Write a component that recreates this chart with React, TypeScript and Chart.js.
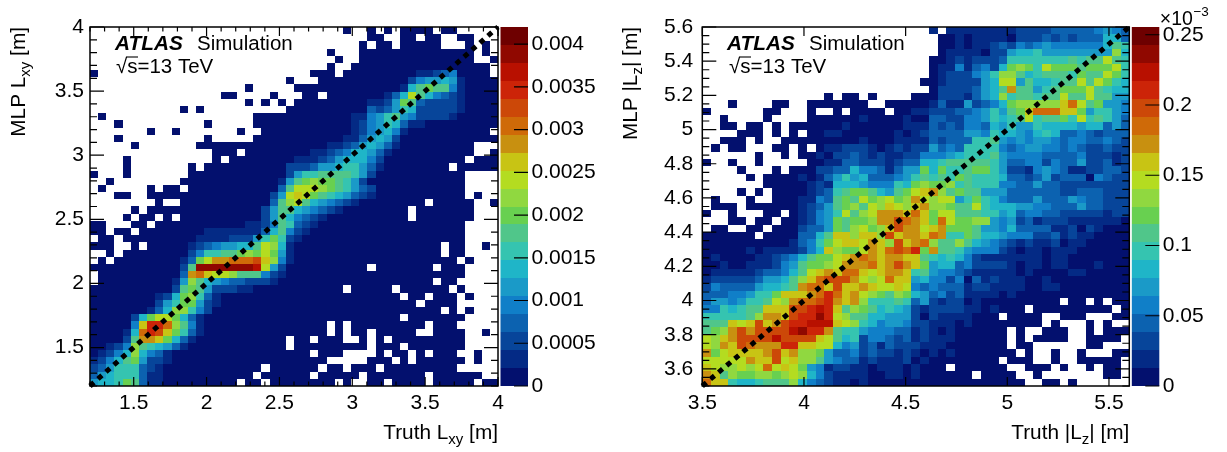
import React, { useEffect, useRef } from "react";
import { Chart, registerables } from "chart.js";

Chart.register(...registerables);

// Colour bins of the two histograms, top row first. "." = empty bin,
// 0-9 a-j = z bin number (0 lowest, j highest).
const lxyRows = [
  ".......... .......... .......... .0..0.0.00 00.00.....",
  ".......... .......... .......... ....00..00 .00..00...",
  ".......... .......... .......... ...0.00.00 000...0.0.",
  ".......... .......... .........0 ...0000000 0000000.0.",
  ".......... .......... .......... 0..0000000 0000000..0",
  ".......... .......... .........0 ..00000000 000000000.",
  "0......... .......... .......000 .000000000 112340000.",
  ".......... .......... ....0...00 0000000002 4556510000",
  ".......... .........0 .....00000 0000000016 8988410000",
  ".......... ......00.. ..0...00.0 000000136b 8643210000",
  ".......... .........0 .0.0.00000 0000112598 3222210000",
  ".......... .0.0...... ....000000 0000323576 2222210000",
  ".0........ .......... 0000000000 0011457854 2222100000",
  "...0...... ....0..... 0000000000 0012457631 1000000000",
  ".......0.. 0.......0. .000000000 0012456410 000000000.",
  "...0...... ....0..... 0000000000 0113565200 0000000000",
  ".....0.... ...0000000 0000000001 1235653100 0000000...",
  ".......... .....000.0 0000000112 3466531000 0000000..0",
  "....0..... .....0.000 0000011123 5666420000 000000.000",
  "....0..... ..0.000000 0000222355 6775310000 0000.00000",
  "0...0..... ..00000000 0000257788 8875200000 000000....",
  "..0....... .000000000 0001589a99 8752000000 000000....",
  ".0.....0.0 0.00000000 00038bbba9 8753200000 000000....",
  "...00..000 0000000000 0025bcb987 6532100000 000000.0..",
  "........0. .000000000 0038ab8654 3210000000 0.00000..0",
  ".....0.000 0000000000 0258865432 100000000. 0000000...",
  "....0.00.0 .000000000 0258643210 000000000. 0000000...",
  "00...00.00 0000000001 1248732100 0000000000 000000....",
  "00.00.0000 0000111111 1368421000 0000000000 000000....",
  ".00.000000 0001111222 5797210000 0000000000 000000....",
  "000..0.000 0012345566 8ba6100000 0000000000 000.00..0.",
  "..0.000000 002477889a 9b95100000 0000000000 000.00....",
  ".0.0000000 0139bddeee fca4100000 0000000000 00000.0...",
  "0000000000 028iiiiiii hb52000000 0000.00000 00.000....",
  ".000000000 03decbba88 8421000000 0000000000 000000....",
  ".000000000 15a8654332 2210000000 0000000000 00.00.....",
  "0000000000 2898522211 0000000000 0.00000.00 0000.0....",
  "0000000012 69a7310000 0000000000 00000000.0 0.000.0...",
  "0000000025 7995210000 0000000000 0000000000 .0000.....",
  "0000000136 aa74200000 0000000000 0000000000 000.0.0...",
  "00000269bb 9631000000 0000000000 00000000.0 000000....",
  "000004cgge a841000000 000000000. 0.00000000 0.000.....",
  "000016egfc 9731000000 000000000. 0.00.00000 ..0000..0.",
  "000028ddc9 6310000000 0000.00.00 0..0.0.000 000000....",
  "00124a8765 3100000000 0000.00000 0000.000.0 000000....",
  "01246a6431 0000000000 0000000.00 0....0.00. 0.000..0..",
  "1246895221 0000000000 000000000. ....000.0. 000000.0..",
  "2357773210 0000000000 0.000000.0 0.000.0000 00000.....",
  "3567773110 0000000000 .000000.00 000.000000 0.000000..",
  "5667983110 00000000.0 0.00000000 .0..00.000 0.00000.00",
];

const lzRows = [
  ".......... .......... ......1.11 1111112222 333334543",
  ".......... .......... .......001 0111102223 232333663",
  ".......... .......... .......001 0112324345 444444687",
  ".......... .......... .......011 1102256675 5555555a6",
  ".......... .......... ......0012 1222377777 778788b87",
  ".......... .......... ......0114 134269a97b 9998999b7",
  ".......... .......... ......0122 2457aa8678 887988b97",
  ".......... .......... .....00122 2256bb5866 788b8b976",
  ".......... .......... ......0222 23568d8857 8999b8766",
  ".......... ....0.00.0 ....000222 1356a78878 8b88b8855",
  "...0....00 ..0000000. .000001311 523469aaaa aceb89554",
  "0......00. ..0..0.000 0.00112223 3457589cee ecc957754",
  "..0....0.. ..00000010 0001003322 4457678b78 897b78753",
  "..00.00.0. 0000001000 0001113232 4436575576 666566353",
  "....000.0. 0.00110000 0010123333 5547665467 633432333",
  "..000.0..0 0000000010 0011113233 3778545455 434433432",
  ".0.00...00 .0.0112221 0121225343 7777434554 434322322",
  "......0..0 .001022321 2112244456 7778544443 333422212",
  "0..0..0... ..00113322 2123366788 8887533442 433522312",
  "....0...0. 0002233644 3135596977 8997522145 431122332",
  ".....0.000 0101357563 3345787879 8777633235 233304322",
  ".......000 0012166654 44769a99a7 8777443353 322222222",
  "....0.0.00 0012378998 6589bcda89 8855533333 322333222",
  ".0...0..00 01143898b9 ab9adbabb5 7976433353 335433222",
  ".000.00000 0123589a8b acbacdaa98 8b76665544 333533222",
  "0..0...00. 012457b8ab dddcec9bb8 8877563443 322222122",
  "...00.00.0 012459899a ddfedc9eb9 9aa5452312 221111110",
  ".00..00.00 0233598ab9 acfddbcd99 9855463333 112021000",
  "000000.000 03368ccacc afcddced77 9866544422 312110000",
  "0000000000 13479bccbd cafcdea88a 8654321211 201100000",
  "0000010111 1246ca99bd cefeg9d887 5444210110 111000000",
  "0100001123 46899bcded cddcc87676 4211111110 110000000",
  "0010011124 5899abddde cdfdc95663 4222210110 110001000",
  "0111112334 68bcdceecb cddc785443 2111110100 001100000",
  "1222223556 8acefffdba becc564424 0312111001 000000000",
  "2433335667 8deecfccdc bbcb434333 1221111001 100000000",
  "333445779c ccdegecdba 98a9653423 1111010000 000000000",
  "35545778ba deefgdcda7 7787352122 0100000000 0.00.0.00",
  "4476788ccc ffghgc8a98 6765212222 1101000.00 0000000.0",
  "777778addc fggigba886 6555202111 1000.0000. .000...00",
  "888cbcfcdf gghhhcba76 4554221110 100000000. 0...0.0..",
  "89adfdffff higgd87754 4433121010 00000.0..0 00..0.000",
  "bacdffffhf fffcb86724 4323121110 00000.0.00 00..0000.",
  "badcfedddg gccbb64523 1322211100 00000.00.. ....00...",
  "d9bccccdfc daa9533423 2212101010 000000.0.. 0..0...00",
  "bbbbbdccfb caa8543312 1112010000 0000.000.. 0..00000.",
  "cbaababebc b954122110 11101000.0 00000..000 .0..0.00.",
  "dc8a99aa9a ba64211110 0110100000 0.0000..0. ......00.",
  "ecc7667888 a643211010 0000000000 0000000..0 0.0......",
];

const zBinColours = [
  "#03106e", "#042a85", "#07459a", "#0c62b0", "#107fc8",
  "#1a9ac8", "#1fb5c8", "#35c4b0", "#50c68a", "#68d050",
  "#90d840", "#b4dc20", "#c8c414", "#c89010", "#cf6a08",
  "#cc4808", "#cc2408", "#b81000", "#900800", "#6e0000",
];

const lxyXTicks = [1.5, 2, 2.5, 3, 3.5, 4];
const lxyYTicks = [1.5, 2, 2.5, 3, 3.5, 4];
const lxyMinor = [1.2, 1.3, 1.4, 1.6, 1.7, 1.8, 1.9, 2.1, 2.2, 2.3, 2.4, 2.6, 2.7, 2.8, 2.9, 3.1, 3.2, 3.3, 3.4, 3.6, 3.7, 3.8, 3.9];
const lxyZTicks = [0, 0.0005, 0.001, 0.0015, 0.002, 0.0025, 0.003, 0.0035, 0.004];

const lzXTicks = [3.5, 4, 4.5, 5, 5.5];
const lzYTicks = [3.6, 3.8, 4, 4.2, 4.4, 4.6, 4.8, 5, 5.2, 5.4, 5.6];
const lzYMinor = [3.5, 3.55, 3.65, 3.7, 3.75, 3.85, 3.9, 3.95, 4.05, 4.1, 4.15, 4.25, 4.3, 4.35, 4.45, 4.5, 4.55, 4.65, 4.7, 4.75, 4.85, 4.9, 4.95, 5.05, 5.1, 5.15, 5.25, 5.3, 5.35, 5.45, 5.5, 5.55];
const lzZTicks = [0, 0.05, 0.1, 0.15, 0.2, 0.25];

const FONT = '"Liberation Sans", Arial, sans-serif';
const LABEL_PX = 20.8;
const TICK_PX = 21;
const BINS = "0123456789abcdefghij";

type Run = { t: string; sub?: boolean };

function runWidth(ctx: CanvasRenderingContext2D, runs: Run[]) {
  let w = 0;
  for (const r of runs) {
    ctx.font = `${r.sub ? 15 : LABEL_PX}px ${FONT}`;
    w += ctx.measureText(r.t).width;
  }
  return w;
}

function drawRuns(ctx: CanvasRenderingContext2D, runs: Run[]) {
  let x = -runWidth(ctx, runs);
  ctx.textAlign = "left";
  ctx.textBaseline = "alphabetic";
  for (const r of runs) {
    ctx.font = `${r.sub ? 15 : LABEL_PX}px ${FONT}`;
    ctx.fillText(r.t, x, r.sub ? 5 : 0);
    x += ctx.measureText(r.t).width;
  }
}

type Panel = {
  rows: string[];
  xRange: [number, number];
  yRange: [number, number];
  zMax: number;
  xTicks: number[];
  yTicks: number[];
  xMinor: number[];
  yMinor: number[];
  zTicks: number[];
  xTitle: Run[];
  yTitle: Run[];
  exponent: boolean;
  size: [number, number];
  area: [number, number];
  yPad: number;
  zPad: number;
  yTitleX: number;
  atlasX: number;
  simX: number;
  sqrtX: number;
};

function makeCells(p: Panel) {
  const rows = p.rows.map((r) => r.replace(/ /g, ""));
  const nRows = rows.length;
  const nCols = rows[0].length;
  const dx = (p.xRange[1] - p.xRange[0]) / nCols;
  const dy = (p.yRange[1] - p.yRange[0]) / nRows;
  const cells: { x: number; y: number; v: number }[] = [];
  rows.forEach((row, r) => {
    row.split("").forEach((ch, c) => {
      const bin = BINS.indexOf(ch);
      if (bin < 0) return;
      cells.push({
        x: p.xRange[0] + (c + 0.5) * dx,
        y: p.yRange[1] - (r + 0.5) * dy,
        v: ((bin + 0.5) * p.zMax) / 20,
      });
    });
  });
  return { cells, dx, dy };
}

function makePlugin(p: Panel, dx: number, dy: number) {
  return {
    id: "heat",
    beforeDatasetsDraw(chart: any) {
      const ctx: CanvasRenderingContext2D = chart.ctx;
      const { x, y, z } = chart.scales;
      ctx.save();
      for (const c of chart.data.datasets[0].data) {
        const l = Math.round(x.getPixelForValue(c.x - dx / 2));
        const r = Math.round(x.getPixelForValue(c.x + dx / 2));
        const t = Math.round(y.getPixelForValue(c.y + dy / 2));
        const b = Math.round(y.getPixelForValue(c.y - dy / 2));
        ctx.fillStyle = zBinColours[Math.min(19, Math.floor((c.v / p.zMax) * 20))];
        ctx.fillRect(l, t, r - l, b - t);
      }
      // colour bar
      const a = chart.chartArea;
      zBinColours.forEach((col, i) => {
        const t = Math.round(z.getPixelForValue(((i + 1) * p.zMax) / 20));
        const b = Math.round(z.getPixelForValue((i * p.zMax) / 20));
        ctx.fillStyle = col;
        ctx.fillRect(a.right + 2.5, t, 27.5, b - t);
      });
      ctx.restore();
    },
    afterDatasetsDraw(chart: any) {
      const ctx: CanvasRenderingContext2D = chart.ctx;
      const a = chart.chartArea;
      const { x, y, z } = chart.scales;
      ctx.save();
      ctx.strokeStyle = "#000";
      ctx.lineWidth = 1.2;
      ctx.beginPath();
      const xTick = (v: number, len: number) => {
        const px = x.getPixelForValue(v);
        ctx.moveTo(px, a.bottom);
        ctx.lineTo(px, a.bottom - len);
        ctx.moveTo(px, a.top);
        ctx.lineTo(px, a.top + len);
      };
      const yTick = (v: number, len: number) => {
        const py = y.getPixelForValue(v);
        ctx.moveTo(a.left, py);
        ctx.lineTo(a.left + len, py);
        ctx.moveTo(a.right, py);
        ctx.lineTo(a.right - len, py);
      };
      p.xTicks.forEach((v) => xTick(v, 9));
      p.xMinor.forEach((v) => xTick(v, 4.5));
      p.yTicks.forEach((v) => yTick(v, 14));
      p.yMinor.forEach((v) => yTick(v, 7));
      const barRight = a.right + 30;
      p.zTicks.forEach((v) => {
        const py = z.getPixelForValue(v);
        ctx.moveTo(barRight, py);
        ctx.lineTo(barRight - 14, py);
      });
      ctx.stroke();
      ctx.lineWidth = 1.5;
      ctx.strokeRect(a.left, a.top, a.right - a.left, a.bottom - a.top);

      // Labels
      ctx.fillStyle = "#000";
      ctx.textAlign = "left";
      ctx.textBaseline = "alphabetic";
      ctx.font = `italic bold 20.8px ${FONT}`;
      ctx.fillText("ATLAS", p.atlasX, 49.5);
      ctx.font = `20.5px ${FONT}`;
      ctx.fillText("Simulation", p.simX, 49.5);
      ctx.fillText("√", p.sqrtX, 72.5);
      const rootW = ctx.measureText("√").width;
      ctx.fillText("s=13 TeV", p.sqrtX + rootW, 72.5);
      const sW = ctx.measureText("s").width;
      ctx.lineWidth = 1.1;
      ctx.beginPath();
      ctx.moveTo(p.sqrtX + rootW - 1, 57);
      ctx.lineTo(p.sqrtX + rootW + sW + 0.5, 57);
      ctx.stroke();

      ctx.save();
      ctx.translate(a.right, 439);
      drawRuns(ctx, p.xTitle);
      ctx.restore();

      ctx.save();
      ctx.translate(p.yTitleX, a.top);
      ctx.rotate(-Math.PI / 2);
      drawRuns(ctx, p.yTitle);
      ctx.restore();

      if (p.exponent) {
        ctx.textAlign = "left";
        ctx.font = `19.5px ${FONT}`;
        ctx.fillText("×10", a.right + 30.5, 25);
        const w = ctx.measureText("×10").width;
        ctx.font = `13.5px ${FONT}`;
        ctx.fillText("−3", a.right + 30.5 + w + 0.5, 15.5);
      }
      ctx.restore();
    },
  };
}

function HeatPanel({ panel, left }: { panel: Panel; left: number }) {
  const ref = useRef<HTMLCanvasElement>(null);
  useEffect(() => {
    const p = panel;
    const { cells, dx, dy } = makeCells(p);
    const setTicks = (vals: number[]) => (s: any) => {
      s.ticks = vals.map((value) => ({ value }));
    };
    const tickFont = { family: FONT, size: TICK_PX };
    const common = {
      grid: { display: false, drawTicks: false },
      border: { display: false },
    };
    const noPad = (s: any) => {
      s.paddingTop = 0;
      s.paddingBottom = 0;
      s.paddingLeft = 0;
      s.paddingRight = 0;
    };
    const chart = new Chart(ref.current as HTMLCanvasElement, {
      type: "scatter",
      data: {
        datasets: [
          { label: "bins", data: cells as any, pointRadius: 0, showLine: false },
          {
            label: "diagonal",
            data: [
              { x: p.xRange[0], y: p.yRange[0] },
              { x: p.xRange[1], y: p.yRange[1] },
            ],
            showLine: true,
            pointRadius: 0,
            borderColor: "#000",
            borderWidth: 5,
            borderDash: [5.3, 5.3],
            clip: false as any,
          },
        ],
      },
      options: {
        animation: false,
        responsive: false,
        devicePixelRatio: 1,
        layout: { padding: { top: p.area[0], left: 0, right: 0, bottom: 0 } },
        plugins: { legend: { display: false }, tooltip: { enabled: false } },
        events: [],
        scales: {
          x: {
            ...common,
            type: "linear",
            min: p.xRange[0],
            max: p.xRange[1],
            afterBuildTicks: setTicks(p.xTicks),
            afterFit: (s: any) => {
              s.height = p.size[1] - p.area[1];
              noPad(s);
            },
            ticks: { font: tickFont, color: "#000", padding: 5, maxRotation: 0, autoSkip: false, callback: (v: any) => String(v) },
          },
          y: {
            ...common,
            type: "linear",
            min: p.yRange[0],
            max: p.yRange[1],
            afterBuildTicks: setTicks(p.yTicks),
            afterFit: (s: any) => {
              s.width = p.yPad;
              noPad(s);
            },
            ticks: { font: tickFont, color: "#000", padding: p.yPad === 90 ? 6 : 9, autoSkip: false, callback: (v: any) => String(v) },
          },
          z: {
            ...common,
            type: "linear",
            position: "right",
            min: 0,
            max: p.zMax,
            afterBuildTicks: setTicks(p.zTicks),
            afterFit: (s: any) => {
              s.width = p.zPad;
              noPad(s);
            },
            ticks: { font: tickFont, color: "#000", padding: 33.5, autoSkip: false, callback: (v: any) => String(v) },
          },
        },
      } as any,
      plugins: [makePlugin(p, dx, dy) as any],
    });
    return () => chart.destroy();
  }, [panel]);
  return (
    <canvas
      ref={ref}
      width={panel.size[0]}
      height={panel.size[1]}
      style={{ position: "absolute", left, top: 0, width: panel.size[0], height: panel.size[1], display: "block" }}
    />
  );
}

const lxyPanel: Panel = {
  rows: lxyRows,
  xRange: [1.2, 4],
  yRange: [1.2, 4],
  zMax: 0.0042,
  xTicks: lxyXTicks,
  yTicks: lxyYTicks,
  xMinor: lxyMinor,
  yMinor: lxyMinor,
  zTicks: lxyZTicks,
  xTitle: [{ t: "Truth L" }, { t: "xy", sub: true }, { t: " [m]" }],
  yTitle: [{ t: "MLP L" }, { t: "xy", sub: true }, { t: " [m]" }],
  exponent: false,
  size: [612, 452],
  area: [27, 386],
  yPad: 90,
  zPad: 114,
  yTitleX: 25,
  atlasX: 115,
  simX: 197,
  sqrtX: 116,
};

const lzPanel: Panel = {
  rows: lzRows,
  xRange: [3.5, 5.6],
  yRange: [3.5, 5.6],
  zMax: 0.2555,
  xTicks: lzXTicks,
  yTicks: lzYTicks,
  xMinor: [],
  yMinor: lzYMinor,
  zTicks: lzZTicks,
  xTitle: [{ t: "Truth |L" }, { t: "z", sub: true }, { t: "| [m]" }],
  yTitle: [{ t: "MLP |L" }, { t: "z", sub: true }, { t: "| [m]" }],
  exponent: true,
  size: [615, 452],
  area: [27, 386],
  yPad: 90.3,
  zPad: 97.7,
  yTitleX: 25,
  atlasX: 115,
  simX: 197,
  sqrtX: 117,
};

export default function App() {
  return (
    <div style={{ position: "absolute", left: 0, top: 0, width: 1227, height: 452, overflow: "hidden", background: "#fff" }}>
      <HeatPanel panel={lxyPanel} left={0} />
      <HeatPanel panel={lzPanel} left={612} />
    </div>
  );
}
